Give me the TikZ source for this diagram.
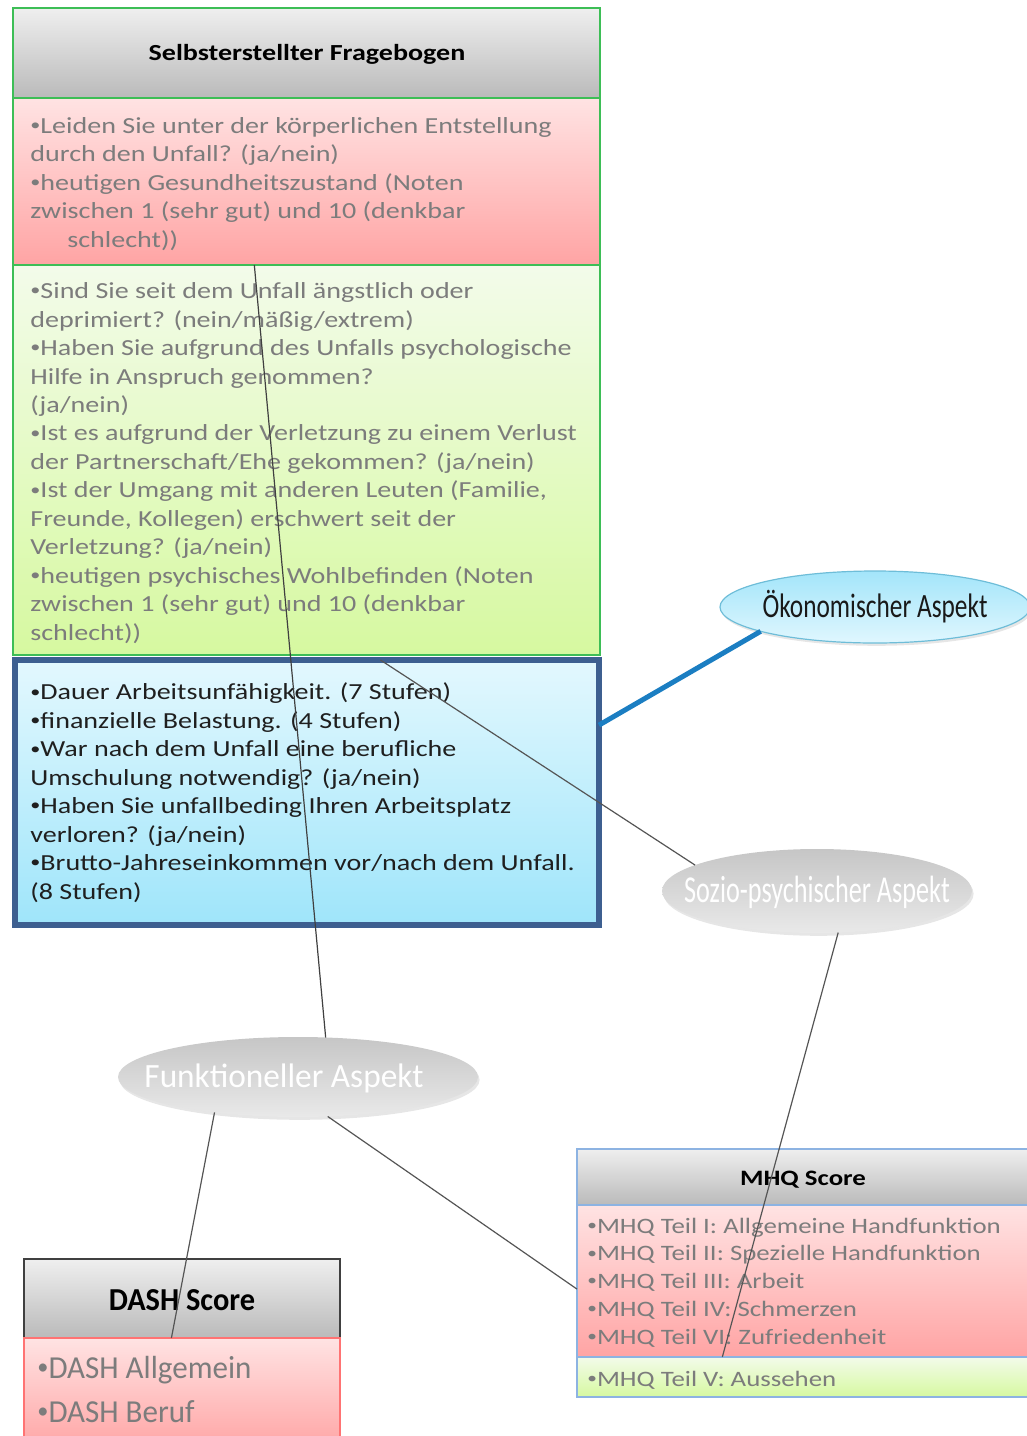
\documentclass[tikz,border=0pt]{standalone}
\usepackage{fontspec}
\setmainfont{Carlito}
\newfontfamily\bodyf[FakeStretch=1.22]{Carlito}
\newfontfamily\ellf{Carlito}
\usetikzlibrary{shapes.geometric,shadows}

% small list bullet
\newcommand\bul{\raisebox{0.12em}{\scalebox{0.72}{•}}}

\definecolor{hdtop}{HTML}{EFEFEF}
\definecolor{hdbot}{HTML}{BABABA}
\definecolor{rdtop}{HTML}{FFE3E3}
\definecolor{rdbot}{HTML}{FFA4A4}
\definecolor{grtop}{HTML}{F3FBEA}
\definecolor{grbot}{HTML}{D6F9A0}
\definecolor{bltop}{HTML}{E3F8FE}
\definecolor{blbot}{HTML}{9FE5FA}
\definecolor{frame}{HTML}{3D5F90}
\definecolor{greenedge}{HTML}{3DBE56}
\definecolor{txtgray}{HTML}{7C7C7C}
\definecolor{link}{HTML}{1B7EC2}
\definecolor{mhqedge}{HTML}{8DB3E2}
\definecolor{ellgtop}{HTML}{C6C6C6}
\definecolor{ellgbot}{HTML}{E9E9E9}
\definecolor{ellbtop}{HTML}{A3E5FA}
\definecolor{ellbbot}{HTML}{E0F7FE}
\definecolor{ellbedge}{HTML}{6EBDD8}
\definecolor{wire}{HTML}{555555}

\begin{document}
\begin{tikzpicture}[x=0.5pt,y=-0.5pt,
  sect/.style={rectangle, anchor=north west, inner sep=0pt, outer sep=0pt},
  head/.style={sect, top color=hdtop, bottom color=hdbot},
  redsec/.style={sect, top color=rdtop, bottom color=rdbot},
  greensec/.style={sect, top color=grtop, bottom color=grbot},
  % multi-line texts are placed by the baseline of their last line
  txt/.style={anchor=base west, align=left, inner sep=0pt, text=txtgray,
    font=\bodyf\fontsize{11.5}{14.22}\selectfont},
  title/.style={anchor=base, inner sep=0pt, text=black,
    font=\bodyf\bfseries\fontsize{11.5}{13}\selectfont},
  aspect/.style={ellipse, inner sep=0pt, outer sep=0pt,
    drop shadow={opacity=0.2, shadow xshift=0.8pt, shadow yshift=-1.4pt}},
  grayasp/.style={aspect, top color=ellgtop, bottom color=ellgbot},
  asplabel/.style={anchor=base, inner sep=0pt},
  wireline/.style={draw=wire, line width=0.6pt}
]
\useasboundingbox (0,0) rectangle (1027,1436);

% ---------- self-made questionnaire ----------
\node[head, draw=greenedge, line width=0.8pt, minimum width=293.5pt, minimum height=45pt] (fhead) at (13,8) {};
\node[redsec, draw=greenedge, line width=0.8pt, minimum width=293.5pt, minimum height=83.5pt] (fred) at (13,98) {};
\node[greensec, draw=greenedge, line width=0.8pt, minimum width=293.5pt, minimum height=195pt] (fgreen) at (13,265) {};
\node[title] (ftitle) at (307,60) {Selbsterstellter Fragebogen};

\node[txt, font=\bodyf\fontsize{11.5}{14.25}\selectfont] (fredtxt) at (30,247) {\bul Leiden Sie unter der körperlichen Entstellung\\
durch den Unfall? (ja/nein)\\
\bul heutigen Gesundheitszustand (Noten\\
zwischen 1 (sehr gut) und 10 (denkbar\\
\hspace{18.5pt}schlecht))};

\node[txt] (fgreentxt) at (30,640) {\bul Sind Sie seit dem Unfall ängstlich oder\\
deprimiert? (nein/mäßig/extrem)\\
\bul Haben Sie aufgrund des Unfalls psychologische\\
Hilfe in Anspruch genommen?\\
(ja/nein)\\
\bul Ist es aufgrund der Verletzung zu einem Verlust\\
der Partnerschaft/Ehe gekommen? (ja/nein)\\
\bul Ist der Umgang mit anderen Leuten (Familie,\\
Freunde, Kollegen) erschwert seit der\\
Verletzung? (ja/nein)\\
\bul heutigen psychisches Wohlbefinden (Noten\\
zwischen 1 (sehr gut) und 10 (denkbar\\
schlecht))};

% ---------- economic block ----------
\node[sect, draw=frame, line width=3pt, top color=bltop, bottom color=blbot,
  minimum width=292pt, minimum height=132.5pt,
  drop shadow={opacity=0.2, shadow xshift=0.8pt, shadow yshift=-1.2pt}] (blue) at (15,660) {};
\node[txt, text=black!88] (bluetxt) at (30,899) {\bul Dauer Arbeitsunfähigkeit. (7 Stufen)\\
\bul finanzielle Belastung. (4 Stufen)\\
\bul War nach dem Unfall eine berufliche\\
Umschulung notwendig? (ja/nein)\\
\bul Haben Sie unfallbeding Ihren Arbeitsplatz\\
verloren? (ja/nein)\\
\bul Brutto-Jahreseinkommen vor/nach dem Unfall.\\
(8 Stufen)};

% ---------- aspects ----------
\node[aspect, draw=ellbedge, line width=0.6pt, top color=ellbtop, bottom color=ellbbot,
  minimum width=155pt, minimum height=36pt] (oek) at (875,607) {};
\node[asplabel, yshift=-5pt, font=\ellf\fontsize{17}{20}\selectfont, text=black!90]
  (oeklab) at (oek.center) {\scalebox{0.745}[1]{Ökonomischer Aspekt}};

\node[grayasp, minimum width=155pt, minimum height=42pt] (sozio) at (817,891) {};
\node[asplabel, yshift=-5.5pt, font=\ellf\fontsize{19}{22}\selectfont, text=white]
  (soziolab) at (sozio.center) {\scalebox{0.69}[1]{Sozio-psychischer Aspekt}};

\node[grayasp, minimum width=180pt, minimum height=40pt] (funk) at (298,1077) {};
\node[asplabel, yshift=-5pt, font=\ellf\fontsize{17}{20}\selectfont, text=white]
  (funklab) at ([xshift=-7pt]funk.center) {\scalebox{0.98}[1]{Funktioneller Aspekt}};

% ---------- MHQ score ----------
\node[head, draw=mhqedge, line width=0.6pt, minimum width=232pt, minimum height=28pt] (mhead) at (577,1149) {};
\node[redsec, draw=mhqedge, line width=0.6pt, minimum width=232pt, minimum height=76pt] (mred) at (577,1205) {};
\node[greensec, draw=mhqedge, line width=0.6pt, minimum width=232pt, minimum height=20pt] (mgreen) at (577,1357) {};
\node[title, font=\bodyf\bfseries\fontsize{11}{12}\selectfont] (mtitle) at (803,1185) {MHQ Score};
\node[txt, font=\bodyf\fontsize{11}{13.875}\selectfont] (mredtxt) at (587,1344) {\bul MHQ Teil I: Allgemeine Handfunktion\\
\bul MHQ Teil II: Spezielle Handfunktion\\
\bul MHQ Teil III: Arbeit\\
\bul MHQ Teil IV: Schmerzen\\
\bul MHQ Teil VI: Zufriedenheit};
\node[txt, font=\bodyf\fontsize{11}{13.875}\selectfont] (mgreentxt) at (587,1386) {\bul MHQ Teil V: Aussehen};

% ---------- DASH score ----------
\node[head, draw=black!75, line width=0.8pt, minimum width=158pt, minimum height=39.5pt] (dhead) at (24,1259) {};
\node[redsec, draw=red!55!white, line width=0.8pt, minimum width=158pt, minimum height=56pt] (dred) at (24,1338) {};
\node[title, font=\ellf\bfseries\fontsize{16}{19}\selectfont] (dtitle) at (182,1310) {\scalebox{0.95}[1]{DASH Score}};
\node[txt, font=\ellf\fontsize{16}{22}\selectfont] (dredtxt) at (37,1422) {\scalebox{0.97}[1]{\bul DASH Allgemein}\\
\scalebox{0.97}[1]{\bul DASH Beruf}};

% ---------- connectors ----------
\draw[link, line width=2.5pt] (blue.13.6) -- (oek.192.6);
\draw[wireline] (blue.61.1) -- (sozio.168.7);
\draw[wireline, draw=black!75] (fred.238.8) -- (funk.55);
\draw[wireline] (funk.203.5) -- (dhead.255.8);
\draw[wireline] (funk.-53.3) -- (mred.182.2);
\draw[wireline] (sozio.-63.4) -- (mgreen.167);
\end{tikzpicture}
\end{document}
